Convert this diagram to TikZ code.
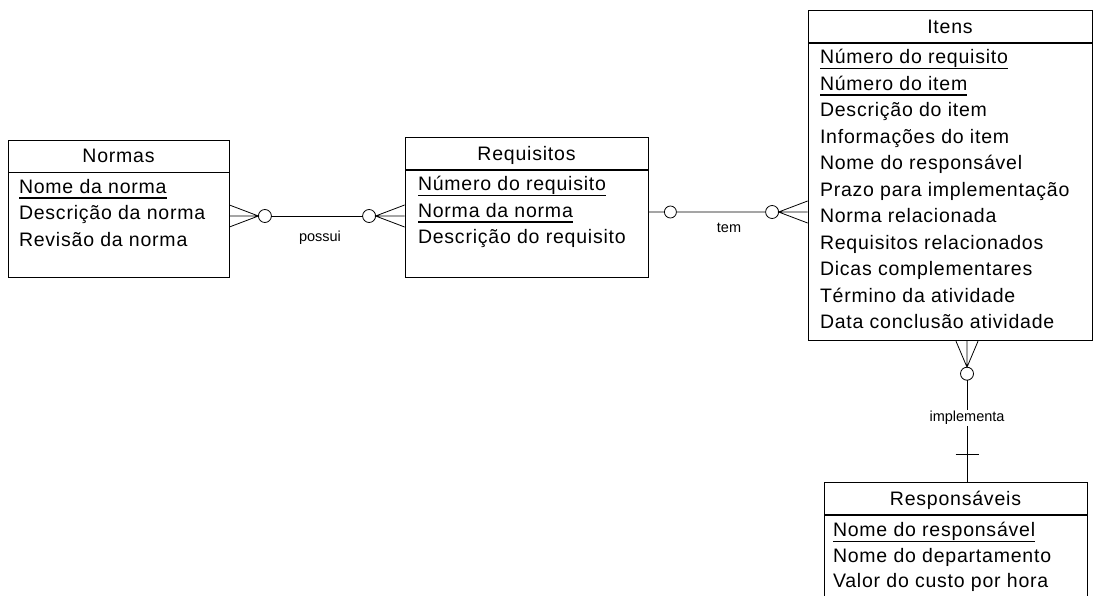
\documentclass[tikz,border=0pt]{standalone}
\usepackage{fontspec}
\setmainfont{Liberation Sans}[LetterSpace=4]
\newfontfamily\relfont{Liberation Sans}
\usepackage{tikz}
\usetikzlibrary{positioning}

\newcommand{\pk}[1]{\setbox0=\hbox{#1}\rlap{\rule[-5.5pt]{\wd0}{1.5pt}}\box0}

\tikzset{
  pics/many/.style={code={
    \draw (0,-11) -- (#1,0) -- (0,11) (0,0) -- (#1,0);
    \draw ({#1+6.5},0) circle (6.5);
  }},
}

\begin{document}
\begin{tikzpicture}[x=1pt, y=-1pt, line width=0.8pt,
    title/.style={draw, minimum height=32pt, inner sep=0pt, text height=14pt, text depth=0pt, font=\fontsize{19.5}{24}\selectfont},
    body/.style={draw, inner sep=0pt},
    attr/.style={anchor=base west, inner sep=0pt, font=\fontsize{19.5}{24}\selectfont},
    rel/.style={inner sep=1pt, font=\relfont\fontsize{14.5}{17}\selectfont}]
    \useasboundingbox (0,0) rectangle (1094,596);

    % Entities
    \node [title, minimum width=221pt] (normas) at (118.5,156) {Normas};
    \node [body, minimum width=221pt, minimum height=105pt, below=0pt of normas] (normas-b) {};
    \foreach \a [count=\i] in {\pk{Nome da norma}, Descrição da norma, Revisão da norma}
        \node [attr] (normas-\i) at ([shift={(11,{21+26.5*(\i-1)})}]normas-b.north west) {\a};

    \node [title, minimum width=243pt] (requisitos) at (526.5,153.5) {Requisitos};
    \node [body, minimum width=243pt, minimum height=107.5pt, below=0pt of requisitos] (requisitos-b) {};
    \foreach \a [count=\i] in {\pk{Número do requisito}, \pk{Norma da norma}, Descrição do requisito}
        \node [attr] (requisitos-\i) at ([shift={(13,{21+26.5*(\i-1)})}]requisitos-b.north west) {\a};

    \node [title, minimum width=284pt] (itens) at (950,26.5) {Itens};
    \node [body, minimum width=284pt, minimum height=297.5pt, below=0pt of itens] (itens-b) {};
    \foreach \a [count=\i] in {\pk{Número do requisito}, \pk{Número do item}, Descrição do item,
        Informações do item, Nome do responsável, Prazo para implementação, Norma relacionada,
        Requisitos relacionados, Dicas complementares, Término da atividade, Data conclusão atividade}
        \node [attr] (itens-\i) at ([shift={(12,{21+26.5*(\i-1)})}]itens-b.north west) {\a};

    \node [title, minimum width=263pt] (resp) at (955.5,498.5) {Responsáveis};
    \node [body, minimum width=263pt, minimum height=90pt, below=0pt of resp] (resp-b) {};
    \foreach \a [count=\i] in {\pk{Nome do responsável}, Nome do departamento, Valor do custo por hora}
        \node [attr] (resp-\i) at ([shift={(9,{22+25.5*(\i-1)})}]resp-b.north west) {\a};

    % Relationships
    \coordinate (p-l) at (normas-b.east |- 0,216);
    \coordinate (p-r) at (requisitos-b.west |- 0,216);
    \pic at (p-l) {many=29};
    \pic [rotate=180] at (p-r) {many=29};
    \draw ([xshift=42pt]p-l) -- ([xshift=-42pt]p-r);

    \coordinate (t-l) at (requisitos-b.east |- 0,212);
    \coordinate (t-r) at (itens-b.west |- 0,212);
    \draw (t-l) -- ++(16,0) ++(6,0) circle (6) ++(6,0) -- ([xshift=-42pt]t-r);
    \pic [rotate=180] at (t-r) {many=29};

    \coordinate (i-t) at (967,0 |- itens-b.south);
    \coordinate (i-b) at (967,0 |- resp.north);
    \pic [rotate=-90] at (i-t) {many=26};
    \draw ([yshift=-39pt]i-t) -- (i-b);
    \draw ([shift={(-11.5,-28)}]i-b) -- ++(23,0);

    % Labels
    \node [rel] (possui) at (320,238) {possui};
    \node [rel] (tem) at (729,228) {tem};
    \node [rel, fill=white] (implementa) at (967,418) {implementa};
\end{tikzpicture}
\end{document}
